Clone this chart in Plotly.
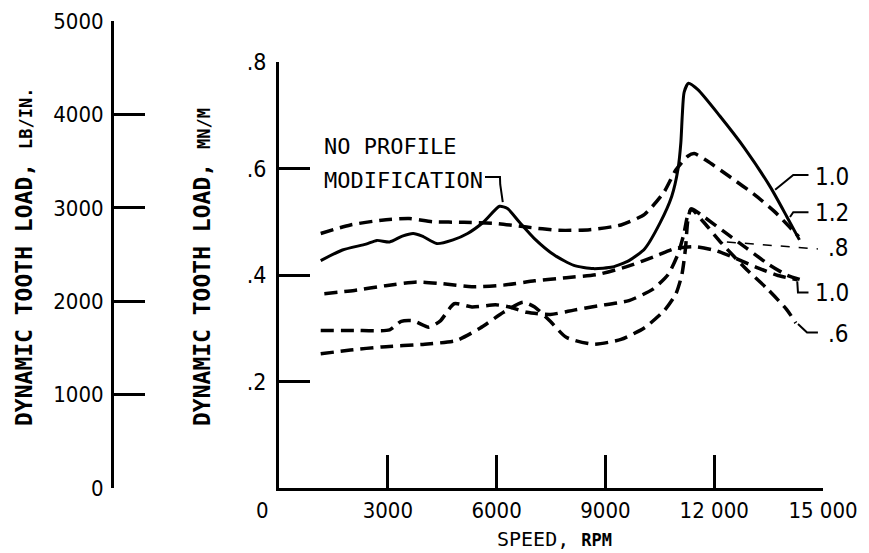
import plotly.graph_objects as go

W, H = 869, 553

# ---------------- data: speed (rpm) vs dynamic tooth load (MN/m) ----------------
solid_x = [1150, 1750, 2400, 2700, 3050, 3400, 3700, 3950, 4350, 4800, 5200, 5650, 6080, 6300,
           6620, 7050, 7600, 8130, 8670, 9200, 9650, 10080, 10500, 10830, 11000, 11080, 11120,
           11170, 11290, 11550, 12150, 12850, 13550, 14000, 14350]
solid_y = [0.427, 0.447, 0.458, 0.465, 0.462, 0.473, 0.478, 0.473, 0.459, 0.466, 0.478, 0.500,
           0.529, 0.525, 0.500, 0.468, 0.437, 0.418, 0.412, 0.415, 0.427, 0.449, 0.497, 0.548,
           0.598, 0.648, 0.700, 0.743, 0.760, 0.748, 0.699, 0.637, 0.565, 0.510, 0.466]

mod12_x = [1150, 1970, 2830, 3590, 4240, 5100, 5970, 6830, 7700, 8570, 9430, 10080, 10620,
           10940, 11270, 11450, 11810, 12460, 13110, 13650, 14080, 14330]
mod12_y = [0.478, 0.494, 0.503, 0.506, 0.500, 0.499, 0.497, 0.490, 0.484, 0.485, 0.494, 0.514,
           0.556, 0.597, 0.623, 0.628, 0.614, 0.583, 0.551, 0.520, 0.490, 0.472]

mod08_x = [1250, 2080, 2940, 3810, 4450, 5320, 6190, 7050, 7920, 8780, 9650, 10400, 10940,
           11480, 12030, 12570, 13220, 13760, 14300]
mod08_y = [0.365, 0.371, 0.380, 0.387, 0.384, 0.378, 0.381, 0.389, 0.395, 0.401, 0.417, 0.436,
           0.450, 0.453, 0.446, 0.432, 0.413, 0.399, 0.391]

mod10_x = [1150, 2080, 3050, 3370, 3700, 4130, 4450, 4830, 5320, 5970, 6290, 6830, 7480, 8130,
           8780, 9650, 10300, 10730, 11000, 11160, 11270, 11380, 11700, 12300, 12900, 13500,
           14000, 14450]
mod10_y = [0.296, 0.296, 0.297, 0.313, 0.314, 0.302, 0.314, 0.346, 0.340, 0.344, 0.341, 0.330,
           0.326, 0.334, 0.342, 0.352, 0.373, 0.401, 0.439, 0.476, 0.512, 0.524, 0.510, 0.480,
           0.450, 0.420, 0.400, 0.390]

mod06_x = [1150, 1970, 2830, 4020, 4890, 5540, 6190, 6730, 7050, 7480, 7920, 8670, 9430, 10080,
           10620, 10940, 11110, 11210, 11270, 11360, 11700, 12200, 12900, 13450, 14000, 14250]
mod06_y = [0.252, 0.259, 0.265, 0.270, 0.277, 0.300, 0.330, 0.349, 0.340, 0.313, 0.283, 0.270,
           0.279, 0.301, 0.333, 0.364, 0.401, 0.451, 0.501, 0.524, 0.500, 0.460, 0.410, 0.375,
           0.335, 0.310]

x_tickvals = [3000, 6000, 9000, 12000, 15000]
x_ticktext = ["3000", "6000", "9000", "12 000", "15 000"]
y_tickvals = [0.2, 0.4, 0.6, 0.8]
y_ticktext = [".2", ".4", ".6", ".8"]
lb_tickvals = [0, 1000, 2000, 3000, 4000, 5000]
lb_ticktext = ["0", "1000", "2000", "3000", "4000", "5000"]

curve_labels = ["1.0", "1.2", ".8", "1.0", ".6"]
curve_label_y = [0.584, 0.516, 0.451, 0.367, 0.289]

LB_PER_MN = 1e6 / 175.1268  # lb/in per MN/m

# ---------------- figure ----------------
NUM_FONT = "DejaVu Sans Condensed, DejaVu Sans, sans-serif"
TXT_FONT = "DejaVu Sans Mono, monospace"
DASH = "13px,7px"

X0, X1 = 279, 823      # pixel span of 0..15000 rpm
Y0, Y08 = 488, 62      # pixel of 0 and 0.8 MN/m

fig = go.Figure()

fig.add_trace(go.Scatter(x=solid_x, y=solid_y, mode="lines",
                         line=dict(color="black", width=3, shape="spline", smoothing=0.6),
                         hoverinfo="skip"))
for xs, ys in [(mod12_x, mod12_y), (mod08_x, mod08_y), (mod10_x, mod10_y), (mod06_x, mod06_y)]:
    fig.add_trace(go.Scatter(x=xs, y=ys, mode="lines",
                             line=dict(color="black", width=3.5, dash=DASH,
                                       shape="spline", smoothing=0.6),
                             hoverinfo="skip"))

# same load in lb/in on the secondary (left) scale - invisible, defines the dual axis
fig.add_trace(go.Scatter(x=solid_x, y=[v * LB_PER_MN for v in solid_y], yaxis="y2",
                         mode="lines", line=dict(width=0), opacity=0, hoverinfo="skip"))

def px_x(p):
    return p / W

def px_y(p):
    return 1 - p / H

def val_to_paper_y(v):
    return px_y(Y0 - v * (Y0 - Y08) / 0.8)

fig.update_layout(
    width=W, height=H,
    margin=dict(l=0, r=0, t=0, b=0),
    paper_bgcolor="white", plot_bgcolor="rgba(0,0,0,0)",
    showlegend=False,
    xaxis=dict(domain=[px_x(X0), px_x(X1)], range=[0, 15000], anchor="y",
               tickvals=x_tickvals, ticktext=x_ticktext,
               ticks="inside", ticklen=33, tickwidth=2.5, tickcolor="black",
               showline=True, linewidth=3, linecolor="black",
               showgrid=False, zeroline=False, automargin=False,
               tickfont=dict(family=NUM_FONT, size=22, color="black"),
               ticklabelstandoff=1),
    yaxis=dict(domain=[px_y(Y0), px_y(Y08)], range=[0, 0.8], anchor="x",
               tickvals=y_tickvals, ticktext=y_ticktext,
               ticks="inside", ticklen=31, tickwidth=2.5, tickcolor="black",
               showline=True, linewidth=3, linecolor="black",
               showgrid=False, zeroline=False, automargin=False,
               tickfont=dict(family=NUM_FONT, size=23, color="black"),
               ticklabelstandoff=5),
    yaxis2=dict(domain=[px_y(Y0), px_y(21)], range=[0, 5000], anchor="free",
                position=px_x(112), side="left",
                tickvals=lb_tickvals, ticktext=lb_ticktext,
                ticks="inside", ticklen=31, tickwidth=2.5, tickcolor="black",
                showline=True, linewidth=3, linecolor="black",
                showgrid=False, zeroline=False, automargin=False,
                tickfont=dict(family=NUM_FONT, size=22, color="black"),
                ticklabelstandoff=3),
)

ann = []
# axis titles
ann.append(dict(text="<b>DYNAMIC TOOTH LOAD, <span style='font-size:17px'>LB/IN.</span></b>",
                xref="paper", yref="paper", x=px_x(24), y=px_y(428),
                xanchor="center", yanchor="bottom", textangle=-90, showarrow=False,
                font=dict(family=TXT_FONT, size=23, color="black")))
ann.append(dict(text="<b>DYNAMIC TOOTH LOAD, <span style='font-size:17px'>MN/M</span></b>",
                xref="paper", yref="paper", x=px_x(202), y=px_y(428),
                xanchor="center", yanchor="bottom", textangle=-90, showarrow=False,
                font=dict(family=TXT_FONT, size=23, color="black")))
ann.append(dict(text="SPEED, <b><span style='font-size:17px'>RPM</span></b>",
                xref="paper", yref="paper", x=px_x(554), y=px_y(539),
                xanchor="center", yanchor="middle", showarrow=False,
                font=dict(family=TXT_FONT, size=20, color="black")))
# origin zero
ann.append(dict(text="0", xref="paper", yref="paper", x=px_x(262), y=px_y(510),
                xanchor="center", yanchor="middle", showarrow=False,
                font=dict(family=NUM_FONT, size=22, color="black")))
# curve caption
ann.append(dict(text="NO PROFILE", xref="x", yref="y", x=1185, y=0.642,
                xanchor="left", yanchor="middle", showarrow=False,
                font=dict(family=TXT_FONT, size=22, color="black")))
ann.append(dict(text="MODIFICATION", xref="x", yref="y", x=1185, y=0.578,
                xanchor="left", yanchor="middle", showarrow=False,
                font=dict(family=TXT_FONT, size=22, color="black")))
# right-hand curve labels (outside the axis range -> paper coordinates)
for lab, yv in zip(curve_labels, curve_label_y):
    ann.append(dict(text=lab, xref="paper", yref="paper", x=px_x(851), y=val_to_paper_y(yv),
                    xanchor="right", yanchor="middle", showarrow=False,
                    font=dict(family=NUM_FONT, size=24, color="black")))
fig.update_layout(annotations=ann)

# leader lines
leaders = [
    ("M 5680,0.584 L 6093,0.584 L 6100,0.570 L 6170,0.537", "solid", 2),
    ("M 13680,0.560 L 14180,0.588 L 14600,0.588", "solid", 2),
    ("M 14090,0.509 L 14180,0.518 L 14600,0.518", "solid", 2),
    ("M 12350,0.462 L 14860,0.449", "dash", 1.5),
    ("M 14290,0.388 L 14310,0.367 L 14600,0.367", "solid", 2),
    ("M 14310,0.308 L 14560,0.292 L 14860,0.292", "solid", 2),
]
for path, dash, wd in leaders:
    fig.add_shape(type="path", path=path, xref="x", yref="y",
                  line=dict(color="black", width=wd, dash=dash))

fig.write_html("out.html", config={"displayModeBar": False},
               post_script="document.body.style.margin='0';")
